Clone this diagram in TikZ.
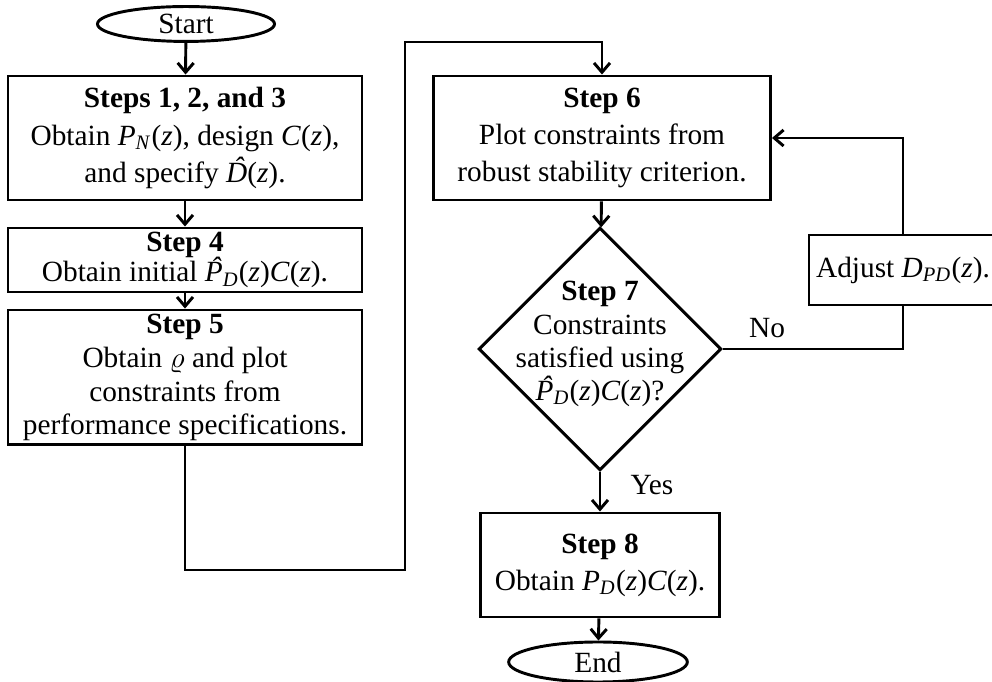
\documentclass[tikz,border=0pt]{standalone}
\usepackage{fontspec}
\setmainfont{Liberation Serif}
\usetikzlibrary{shapes.geometric,arrows.meta}
\newcommand{\iv}[1]{\textit{#1}}
\newcommand{\hatv}[1]{\textit{\ooalign{#1\cr\hidewidth\kern0.12em\smash{\raisebox{0.14em}{\char"02C6}}\hidewidth\cr}}}
\begin{document}
\begin{tikzpicture}[x=0.375pt, y=-0.375pt, font=\fontsize{11}{13.9}\selectfont, >={Straight Barb[length=3.5pt,width=6pt]}, line width=1.1pt,
        box/.style={draw, align=center, inner sep=0pt},
        term/.style={draw, ellipse, inner sep=0pt},
        decide/.style={draw, diamond, inner sep=0pt, minimum width=91pt, minimum height=91pt}]
        \useasboundingbox (0,0) rectangle (992,682);
        \node[term, minimum width=66.4pt, minimum height=13.1pt] (start) at (186,24) {Start};
        \node[box, minimum width=132.75pt, minimum height=46.5pt] (s123) at (185,138) {\textbf{Steps 1, 2, and 3}\\Obtain \iv{P}\textsubscript{\iv{N}}(\iv{z}), design \iv{C}(\iv{z}),\\and specify \hatv{D}(\iv{z}).};
        \node[box, minimum width=132.75pt, minimum height=24pt] (s4) at (185,260) {\textbf{Step 4}\\[-2.6pt]Obtain initial \hatv{P}\textsubscript{\iv{D}}(\iv{z})\iv{C}(\iv{z}).};
        \node[box, minimum width=132.75pt, minimum height=50.6pt] (s5) at (185,377.5) {\textbf{Step 5}\\[-1.2pt]Obtain $\varrho$ and plot\\[-1.2pt]constraints from\\[-1.2pt]performance specifications.};
        \node[box, minimum width=126.4pt, minimum height=46.5pt] (s6) at (602,138) {\textbf{Step 6}\\Plot constraints from\\robust stability criterion.};
        \node[decide] (s7) at (600,349) {};
        \node[align=center, inner sep=0pt] (s7t) at (600,344) {\textbf{Step 7}\\[-1.5pt]Constraints\\[-1.5pt]satisfied using\\[-1.5pt]\hatv{P}\textsubscript{\iv{D}}(\iv{z})\iv{C}(\iv{z})?};
        \node[box, minimum width=70.5pt, minimum height=26.25pt] (adj) at (903,270) {Adjust \iv{D}\textsubscript{\iv{PD}}(\iv{z}).};
        \node[box, minimum width=89.6pt, minimum height=39pt] (s8) at (600,565) {\textbf{Step 8}\\Obtain \iv{P}\textsubscript{\iv{D}}(\iv{z})\iv{C}(\iv{z}).};
        \node[term, minimum width=67pt, minimum height=15pt] (stop) at (598,662) {End};
        \node (no) at (767,328) {No};
        \node (yes) at (652,485) {Yes};
        \coordinate (c1) at (405,570);
        \coordinate (c2) at (405,42);
        \draw[->] (start) -- (s123);
        \draw[->] (s123) -- (s4);
        \draw[->] (s4) -- (s5);
        \draw[->] (s5) |- (c1) -- (c2) -| (s6);
        \draw[->] (s6) -- (s7);
        \draw (s7.east) -| (adj);
        \draw[->] (adj) |- (s6);
        \draw[->] (s7) -- (s8);
        \draw[->] (s8) -- (stop);
    \end{tikzpicture}
\end{document}
